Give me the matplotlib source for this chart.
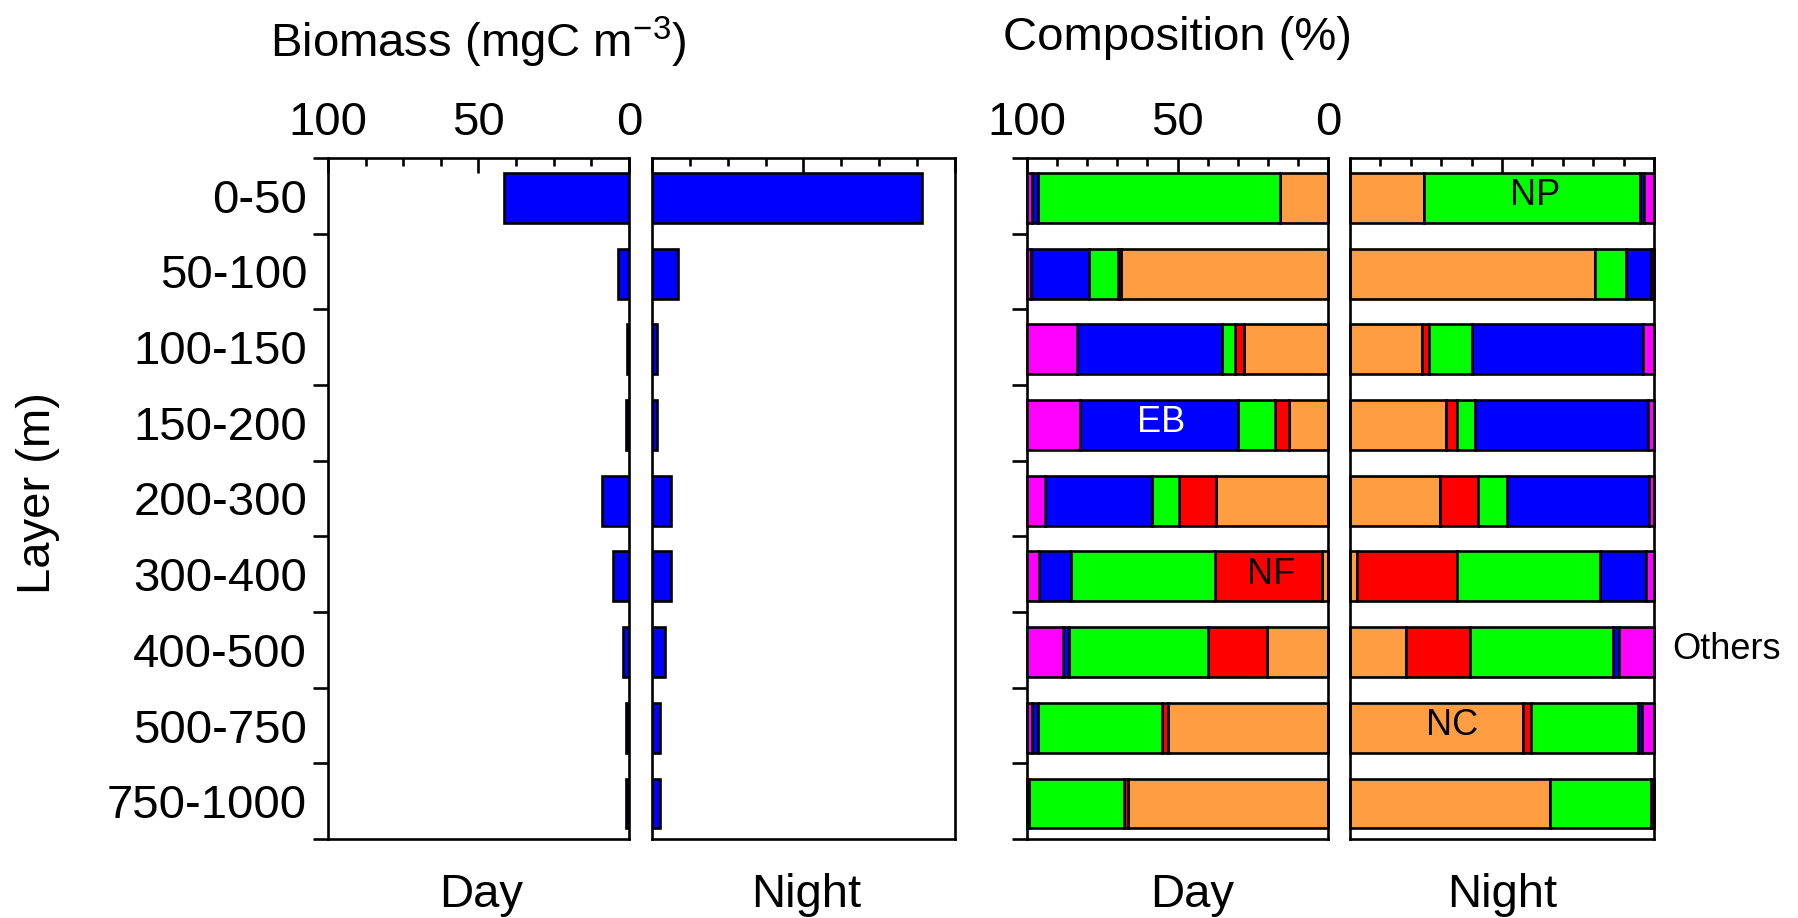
import numpy as np
import matplotlib.pyplot as plt
from matplotlib.ticker import MultipleLocator, FixedLocator

#==================
# Data
layers = ['0-50', '50-100', '100-150', '150-200', '200-300',
          '300-400', '400-500', '500-750', '750-1000']

# Biomass (mgC m-3)
biomassDay = [41.6, 3.6, 0.5, 1.0, 8.9, 5.3, 1.9, 1.0, 1.0]
biomassNight = [89.0, 8.7, 1.8, 1.8, 6.2, 6.2, 4.3, 2.5, 2.5]

# Composition (%) per group, one value per layer
groups = ['NC', 'NF', 'NP', 'EB', 'Others']
groupColors = ['#FF9D42', '#FF0000', '#00FF00', '#0000FF', '#FF00FF']
compDay = {
    'NC':     [16.0, 68.8, 28.0, 13.0, 37.2, 2.0, 20.2, 53.2, 66.5],
    'NF':     [0.0, 1.0, 2.8, 4.5, 12.4, 35.4, 19.7, 1.9, 1.3],
    'NP':     [80.5, 9.5, 4.5, 12.5, 8.9, 47.9, 46.1, 41.4, 31.4],
    'EB':     [2.0, 19.4, 48.0, 52.5, 35.6, 10.8, 1.9, 1.7, 0.4],
    'Others': [1.5, 1.3, 16.7, 17.5, 5.9, 3.9, 12.1, 1.8, 0.4],
}
compNight = {
    'NC':     [24.5, 80.5, 23.6, 31.5, 29.6, 2.4, 18.3, 57.0, 65.8],
    'NF':     [0.0, 0.0, 2.5, 3.6, 12.4, 32.7, 21.2, 2.5, 0.0],
    'NP':     [71.0, 10.4, 14.1, 6.0, 9.8, 47.1, 47.1, 35.1, 33.2],
    'EB':     [1.2, 8.0, 56.3, 56.9, 46.4, 15.1, 2.0, 1.3, 0.0],
    'Others': [3.3, 1.1, 3.5, 2.0, 1.8, 2.7, 11.4, 4.1, 1.0],
}

#==================
# Style
plt.rcParams['font.family'] = ['Liberation Sans', 'DejaVu Sans']
plt.rcParams['axes.linewidth'] = 1.9
fs = 34
lw = 1.9
barH = 0.66
y = np.arange(len(layers))
yBar = y + 0.03   # bars sit slightly low in their rows

fig = plt.figure(figsize=(17.99, 9.18), dpi=100)

axBD = fig.add_axes([0.1823, 0.086, 0.1673, 0.742])
axBN = fig.add_axes([0.3624, 0.086, 0.1684, 0.742])
axCD = fig.add_axes([0.5709, 0.086, 0.1673, 0.742])
axCN = fig.add_axes([0.7504, 0.086, 0.1690, 0.742])

#=========================================
# Common axis setup for all four panels
def setupAxis(ax, minorStep, reverse, labels, rowTicks):
	ax.set_ylim(len(layers) - 0.5, -0.5)
	if reverse:
		ax.set_xlim(100, 0)
	else:
		ax.set_xlim(0, 100)
	ax.xaxis.tick_top()
	ax.xaxis.set_major_locator(FixedLocator([0, 50, 100]))
	ax.xaxis.set_minor_locator(MultipleLocator(minorStep))
	ax.tick_params(axis='x', which='major', direction='in', length=11, width=lw,
				   pad=9.5, labelsize=fs, top=True, bottom=False)
	ax.tick_params(axis='x', which='minor', direction='in', length=5.5, width=lw,
				   top=True, bottom=False)
	if not labels:
		ax.set_xticklabels([])
	# row boundaries as outward ticks, labels at row centres
	if rowTicks:
		ax.set_yticks(np.arange(-0.5, len(layers) + 0.5, 1))
		ax.set_yticklabels([])
		ax.tick_params(axis='y', which='major', direction='out', length=11, width=lw)
	else:
		ax.set_yticks([])
	ax.set_yticks(y, minor=True)
	ax.set_yticklabels([], minor=True)
	ax.tick_params(axis='y', which='minor', length=0, pad=15, labelsize=fs)

setupAxis(axBD, 12.5, True, True, True)
setupAxis(axBN, 12.5, False, False, False)
setupAxis(axCD, 10, True, True, True)
setupAxis(axCN, 10, False, False, False)

axBD.set_yticklabels(layers, minor=True)

#===========================
# Biomass bars
axBD.barh(yBar, biomassDay, height=barH, color='#0000FF', edgecolor='k', linewidth=lw)
axBN.barh(yBar, biomassNight, height=barH, color='#0000FF', edgecolor='k', linewidth=lw)

#===========================
# Composition stacked bars
for ax, comp in [(axCD, compDay), (axCN, compNight)]:
	left = np.zeros(len(layers))
	for g, c in zip(groups, groupColors):
		vals = np.array(comp[g])
		ax.barh(yBar, vals, left=left, height=barH, color=c, edgecolor='k',
				linewidth=lw, clip_on=False)
		left += vals

# Group labels
axCD.text(55.5, 3, 'EB', color='white', fontsize=26, ha='center', va='center')
axCD.text(19, 5, 'NF', color='k', fontsize=26, ha='center', va='center')
axCN.text(61, 0, 'NP', color='k', fontsize=26, ha='center', va='center')
axCN.text(33.5, 7, 'NC', color='k', fontsize=26, ha='center', va='center')
axCN.text(1.06, 6, 'Others', color='k', fontsize=26, ha='left', va='center',
		  transform=axCN.get_yaxis_transform())

#===========================
# Titles and labels
axBD.set_title(r'Biomass (mgC m$^{\mathregular{-3}}$)', fontsize=fs, pad=72)
axCD.set_title('Composition (%)', fontsize=fs, pad=78)
for ax, txt, xpos in [(axBD, 'Day', 0.51), (axBN, 'Night', 0.51),
					  (axCD, 'Day', 0.55), (axCN, 'Night', 0.5)]:
	ax.text(xpos, -0.05, txt, fontsize=fs, ha='center', va='top', transform=ax.transAxes)
fig.text(0.021, 0.463, 'Layer (m)', fontsize=fs, rotation=90, ha='center', va='center')

plt.savefig('out.png', dpi=100)
